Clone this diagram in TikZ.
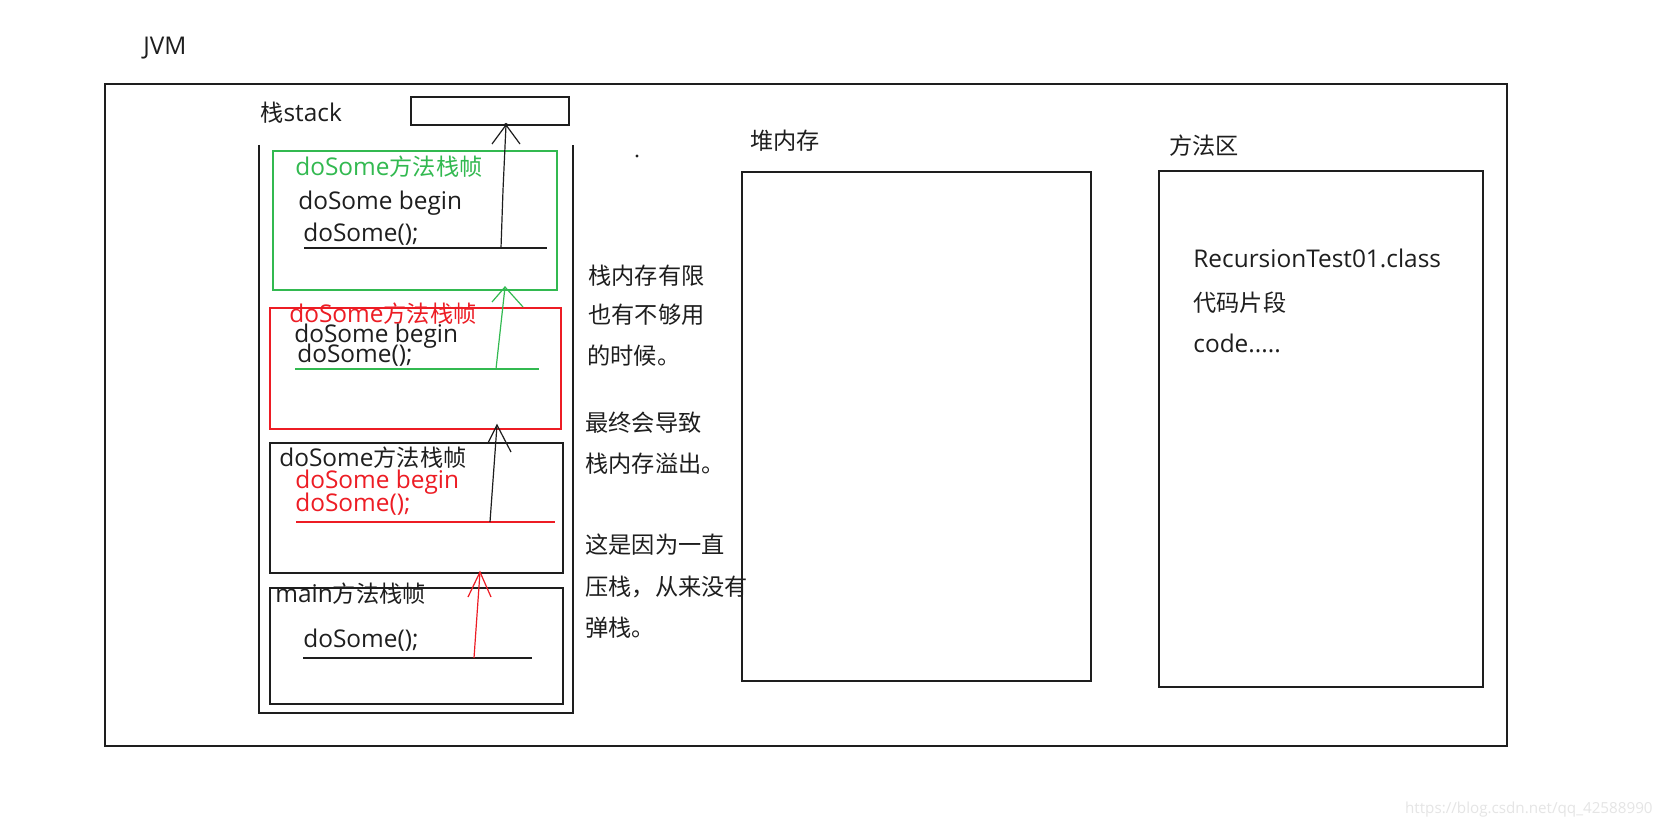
\documentclass[tikz,border=0pt]{standalone}
\usepackage{fontspec}
\setmainfont{Open Sans}
\newfontfamily\cjk{Noto Sans CJK SC}
\definecolor{pgreen}{RGB}{50,185,80}
\definecolor{pred}{RGB}{237,28,36}
\definecolor{pblack}{RGB}{30,30,30}
\begin{document}
\begin{tikzpicture}[x=0.5pt,y=-0.5pt,
  box/.style={draw=pblack,line width=0.75pt},
  gbox/.style={draw=pgreen,line width=0.7pt},
  rbox/.style={draw=pred,line width=0.7pt},
  lat/.style={font=\fontsize{12.2}{14}\selectfont,inner sep=0pt,anchor=base west,text=pblack},
  zh/.style={font=\fontsize{11.6}{14}\cjk,inner sep=0pt,anchor=west,text=pblack},
  uline/.style={line width=0.6pt},
  shaft/.style={line width=0.6pt}]
\useasboundingbox[fill=white] (0,0) rectangle (1663,828);

% JVM
\node[lat] (jvm) at (143,55) {JVM};
% outer
\draw[box] (105,84) rectangle (1507,746);

% stack label and container
\node[lat] (stk) at (260,122) {{\fontsize{11.6}{14}\cjk 栈}stack};
\draw[box] (259,145) -- (259,713) -- (573,713) -- (573,145);
\draw[box] (411,97) rectangle (569,125);
\coordinate (topbox) at (506,125);

% green frame
\draw[gbox] (273,151) rectangle (557,290);
\node[lat,text=pgreen] (g1) at (295,176) {doSome{\fontsize{11.6}{14}\cjk 方法栈帧}};
\node[lat] (g2) at (298,210) {doSome begin};
\node[lat] (g3) at (303,242) {doSome();};
\coordinate (gu1) at (304,248); \coordinate (gu2) at (547,248);
\draw[uline,pblack] (gu1) -- (gu2);
\coordinate (ga) at (501,248);
\draw[shaft,pblack] (ga) -- (503,190) -- (topbox);
\draw[shaft,pblack] (492,144) -- (topbox) -- (520,144);
\fill[pblack] (topbox) circle (2);

% red frame
\draw[rbox] (270,308) rectangle (561,429);
\node[lat,text=pred] (r1) at (289,322) {doSome{\fontsize{11.6}{14}\cjk 方法栈帧}};
\node[lat] (r2) at (294,343) {doSome begin};
\node[lat] (r3) at (297,363) {doSome();};
\coordinate (ru1) at (295,369); \coordinate (ru2) at (539,369);
\draw[uline,pgreen] (ru1) -- (ru2);
\coordinate (ra) at (496,369); \coordinate (rtip) at (505,287);
\draw[shaft,pgreen] (ra) -- (rtip);
\draw[shaft,pgreen] (492,302) -- (rtip) -- (523,307);

% black frame
\draw[box] (270,443) rectangle (563,573);
\node[lat] (b1) at (279,466) {doSome{\fontsize{11.6}{14}\cjk 方法栈帧}};
\node[lat,text=pred] (b2) at (295,488) {doSome begin};
\node[lat,text=pred] (b3) at (295,511) {doSome();};
\coordinate (bu1) at (296,522); \coordinate (bu2) at (555,522);
\draw[uline,pred] (bu1) -- (bu2);
\coordinate (ba) at (490,522); \coordinate (btip) at (497,425);
\draw[shaft,pblack] (ba) -- (btip);
\draw[shaft,pblack] (488,443) -- (btip) -- (511,452);

% main frame
\draw[box] (270,588) rectangle (563,704);
\node[lat] (m1) at (275,602) {main{\fontsize{11.6}{14}\cjk 方法栈帧}};
\node[lat] (m2) at (303,647) {doSome();};
\coordinate (mu1) at (303,658); \coordinate (mu2) at (532,658);
\draw[uline,pblack] (mu1) -- (mu2);
\coordinate (ma) at (474,658); \coordinate (mtip) at (480,572);
\draw[shaft,pred] (ma) -- (mtip);
\draw[shaft,pred] (468,597) -- (mtip) -- (491,597);

% dot
\fill[pblack] (637,156) circle (1.6);

% notes
\node[zh] (n1) at (588,276) {栈内存有限};
\node[zh] (n2) at (588,315) {也有不够用};
\node[zh] (n3) at (587,356) {的时候。};
\node[zh] (n4) at (585,423) {最终会导致};
\node[zh] (n5) at (585,464) {栈内存溢出。};
\node[zh] (n6) at (585,545) {这是因为一直};
\node[zh] (n7) at (585,587) {压栈，从来没有};
\node[zh] (n8) at (585,628) {弹栈。};

% heap
\node[zh] (heapl) at (750,141) {堆内存};
\draw[box] (742,172) rectangle (1091,681);

% method area
\node[zh] (mal) at (1169,146) {方法区};
\draw[box] (1159,171) rectangle (1483,687);
\node[lat] (c1) at (1193,268) {RecursionTest01.class};
\node[zh] (c2) at (1193,303) {代码片段};
\node[lat] (c3) at (1193,352) {code.....};

% watermark
\node[font=\fontsize{7.6}{9}\selectfont,text=black!10,anchor=east,inner sep=0pt] (wm) at (1653,810) {https://blog.csdn.net/qq\_42588990};
\end{tikzpicture}
\end{document}
